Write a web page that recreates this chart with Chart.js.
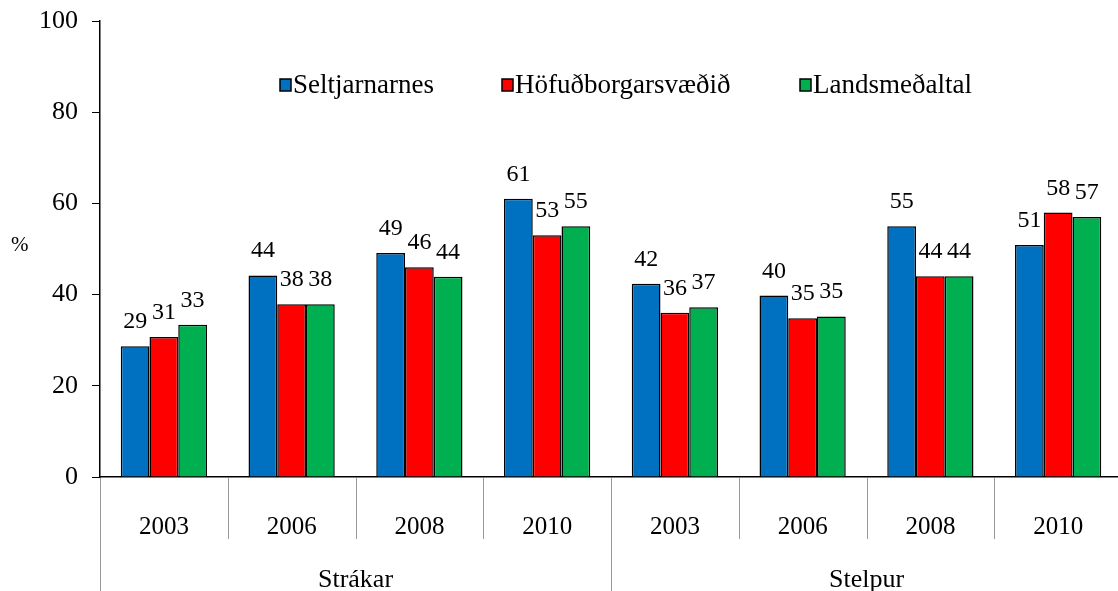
<!DOCTYPE html>
<html lang="is">
<head>
  <meta charset="UTF-8" />
  <title>Seltjarnarnes - samanburður</title>
  <script src="https://cdn.jsdelivr.net/npm/chart.js"></script>
  <style>
    html, body { margin: 0; padding: 0; background: #fff; overflow: hidden; }
    #wrap { width: 1122px; height: 591px; position: relative; }
  </style>
</head>
<body>
  <div id="wrap"><canvas id="chart"></canvas></div>

  <script>
    const years = ['2003', '2006', '2008', '2010', '2003', '2006', '2008', '2010'];
    const groups = ['Strákar', 'Stelpur'];
    const seriesNames = ['Seltjarnarnes', 'Höfuðborgarsvæðið', 'Landsmeðaltal'];
    const seltjarnarnes = [28.7, 44.2, 49.1, 61.0, 42.4, 39.8, 55.0, 50.9];
    const hofudborg = [30.7, 37.9, 46.0, 53.0, 36.0, 34.8, 44.0, 58.0];
    const landsmedaltal = [33.4, 37.9, 43.9, 55.0, 37.2, 35.2, 44.0, 57.0];
    const yTicks = [0, 20, 40, 60, 80, 100];
    const colors = ['#0070C0', '#FF0000', '#00B050'];

    const serif = '"Liberation Serif", "Times New Roman", serif';

    // labels over bars, legend, group axis, "%" title
    const extras = {
      id: 'extras',
      afterDatasetsDraw(chart) {
        const ctx = chart.ctx;
        ctx.save();
        ctx.fillStyle = '#000';
        ctx.font = '24px ' + serif;
        ctx.textAlign = 'center';
        ctx.textBaseline = 'alphabetic';
        chart.data.datasets.forEach((ds, i) => {
          chart.getDatasetMeta(i).data.forEach((bar, j) => {
            ctx.fillText(Math.round(ds.data[j]), bar.x, bar.y - 18);
          });
        });

        // legend
        const legendX = [280, 502, 800];
        ctx.textAlign = 'left';
        ctx.textBaseline = 'middle';
        ctx.font = '27px ' + serif;
        seriesNames.forEach((name, i) => {
          ctx.fillStyle = colors[i];
          ctx.fillRect(legendX[i], 79, 11, 12);
          ctx.strokeStyle = '#000';
          ctx.lineWidth = 1.5;
          ctx.strokeRect(legendX[i], 79, 11, 12);
          ctx.fillStyle = '#000';
          ctx.fillText(name, legendX[i] + 13, 86);
        });

        // category dividers
        const x = chart.scales.x;
        const base = chart.chartArea.bottom;
        const step = x.getPixelForValue(1) - x.getPixelForValue(0);
        ctx.strokeStyle = '#999';
        ctx.lineWidth = 1;
        for (let k = 0; k <= years.length; k++) {
          const px = Math.round(x.getPixelForValue(0) - step / 2 + k * step) + 0.5;
          const outer = k % 4 === 0;
          ctx.beginPath();
          ctx.moveTo(px, base + 1);
          ctx.lineTo(px, outer ? chart.height : base + 62);
          ctx.stroke();
        }
        // group labels
        ctx.fillStyle = '#000';
        ctx.font = '26px ' + serif;
        ctx.textAlign = 'center';
        ctx.textBaseline = 'alphabetic';
        groups.forEach((g, i) => {
          const cx = (x.getPixelForValue(i * 4) + x.getPixelForValue(i * 4 + 3)) / 2;
          ctx.fillText(g, cx, 587);
        });

        ctx.font = '21px ' + serif;
        ctx.textAlign = 'left';
        ctx.textBaseline = 'middle';
        ctx.fillText('%', 11, 245);
        ctx.restore();
      }
    };

    new Chart(document.getElementById('chart'), {
      type: 'bar',
      data: {
        labels: years,
        datasets: [
          { label: seriesNames[0], data: seltjarnarnes, backgroundColor: colors[0] },
          { label: seriesNames[1], data: hofudborg, backgroundColor: colors[1] },
          { label: seriesNames[2], data: landsmedaltal, backgroundColor: colors[2] }
        ].map(d => Object.assign(d, {
          borderColor: '#000',
          borderWidth: 1.5,
          borderSkipped: 'bottom',
          categoryPercentage: 0.675,
          barPercentage: 1
        }))
      },
      options: {
        responsive: true,
        maintainAspectRatio: false,
        animation: false,
        layout: { padding: { top: 21, right: 0, left: 0, bottom: 0 } },
        plugins: {
          legend: { display: false },
          tooltip: { enabled: false }
        },
        scales: {
          x: {
            grid: { display: false },
            border: { display: true, color: '#000', width: 1.5 },
            ticks: {
              color: '#000',
              font: { family: serif, size: 25 },
              padding: 27,
              maxRotation: 0,
              autoSkip: false
            },
            afterFit(scale) { scale.height = 114; }
          },
          y: {
            min: 0,
            max: 100,
            afterBuildTicks(scale) { scale.ticks = yTicks.map(v => ({ value: v })); },
            grid: {
              drawOnChartArea: false,
              drawTicks: true,
              tickLength: 8,
              color: '#000'
            },
            border: { display: true, color: '#000', width: 1.5 },
            ticks: {
              color: '#000',
              font: { family: serif, size: 26 },
              padding: 14
            },
            afterFit(scale) {
              scale.width = 100;
              scale.paddingTop = 0;
              scale.paddingBottom = 0;
            }
          }
        }
      },
      plugins: [extras]
    });
  </script>
</body>
</html>
